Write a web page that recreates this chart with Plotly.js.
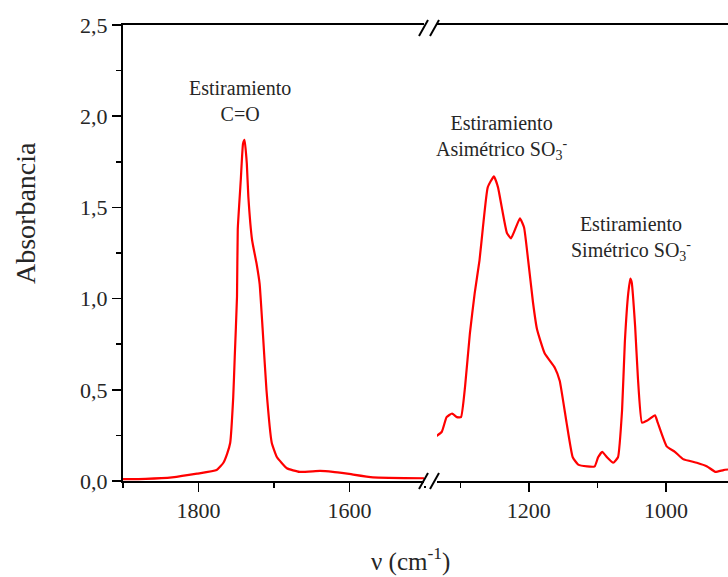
<!DOCTYPE html>
<html>
<head>
<meta charset="utf-8">
<script src="https://cdn.plot.ly/plotly-3.0.1.min.js"></script>
<style>html,body{margin:0;padding:0;background:#fff;}#chart{width:728px;height:577px;}</style>
</head>
<body>
<div id="chart"></div>
<script>
// Left segment (1900–1500 cm-1)
const waveLeft = [1900, 1870, 1835, 1802, 1776, 1767, 1762, 1758, 1754, 1752, 1749, 1748, 1744, 1741, 1739, 1736, 1734, 1729, 1723, 1719, 1715, 1710, 1703, 1696, 1683, 1666, 1639, 1622, 1603, 1569, 1500];
const absLeft  = [0.01, 0.012, 0.02, 0.04, 0.06, 0.10, 0.15, 0.21, 0.46, 0.68, 1.01, 1.38, 1.65, 1.85, 1.87, 1.74, 1.56, 1.32, 1.19, 1.08, 0.83, 0.50, 0.21, 0.13, 0.07, 0.05, 0.055, 0.05, 0.04, 0.02, 0.015];
// Right segment (1335–910 cm-1)
const waveRight = [1337, 1327, 1320, 1312, 1305, 1299, 1293, 1286, 1279, 1272, 1267, 1260, 1251, 1245, 1239, 1232, 1226, 1220, 1213, 1207, 1201, 1194, 1188, 1177, 1162, 1155, 1145, 1136, 1128, 1115, 1104, 1099, 1093, 1086, 1077, 1070, 1064, 1060, 1055, 1052, 1050, 1045, 1041, 1035, 1028, 1016, 1012, 999, 987, 975, 955, 940, 928, 916, 905];
const absRight  = [0.24, 0.27, 0.35, 0.37, 0.35, 0.35, 0.52, 0.81, 1.03, 1.21, 1.39, 1.61, 1.67, 1.61, 1.49, 1.36, 1.33, 1.38, 1.44, 1.39, 1.21, 0.98, 0.83, 0.70, 0.62, 0.55, 0.32, 0.13, 0.09, 0.08, 0.08, 0.13, 0.16, 0.13, 0.10, 0.13, 0.39, 0.76, 1.03, 1.11, 1.09, 0.85, 0.57, 0.32, 0.33, 0.36, 0.32, 0.19, 0.16, 0.12, 0.10, 0.08, 0.05, 0.06, 0.065];
const yTickVals = [0, 0.5, 1.0, 1.5, 2.0, 2.5];
const xTicksLeft = [1800, 1600];
const xTicksRight = [1200, 1000];
const labels = [
  {x: 1745, y: 1.94, axis: 'x', text: 'Estiramiento<br>C=O'},
  {x: 1240, y: 1.73, axis: 'x2', text: 'Estiramiento<br>Asimétrico SO<sub>3</sub><sup>-</sup>'},
  {x: 1051, y: 1.18, axis: 'x2', text: 'Estiramiento<br>Simétrico SO<sub>3</sub><sup>-</sup>'}
];

const W = 728, H = 577, L = 123, R = 0, T = 25, B = 96;
const pw = W - L - R, ph = H - T - B;
const px = v => (v - L) / pw;
const py = v => (H - B - v) / ph;

const FONT = '"Liberation Serif", "Times New Roman", Times, serif';
const RED = '#ff0000';
const TXT = '#262626';

const traces = [
  {x: waveLeft, y: absLeft, xaxis: 'x', yaxis: 'y', mode: 'lines', line: {color: RED, width: 2.2, shape: 'spline', smoothing: 0.4}, hoverinfo: 'skip'},
  {x: waveRight, y: absRight, xaxis: 'x2', yaxis: 'y', mode: 'lines', line: {color: RED, width: 2.2, shape: 'spline', smoothing: 0.4}, hoverinfo: 'skip'}
];

const axCommon = {
  showline: true, linecolor: '#000', linewidth: 2, mirror: true,
  ticks: 'outside', ticklen: 9, tickwidth: 1.5, tickcolor: '#000',
  showgrid: false, zeroline: false,
  tickfont: {family: FONT, size: 22, color: TXT},
  minor: {ticks: 'outside', ticklen: 5, tickwidth: 1.5, tickcolor: '#000', dtick: 100, showgrid: false}
};

const slash = (x0, y0, x1, y1) => ({type: 'line', xref: 'paper', yref: 'paper', x0: px(x0), y0: py(y0), x1: px(x1), y1: py(y1), line: {color: '#000', width: 2}});

const layout = {
  width: W, height: H,
  margin: {l: L, r: R, t: T, b: B},
  paper_bgcolor: '#fff', plot_bgcolor: '#fff',
  showlegend: false,
  separators: ',.',
  font: {family: FONT, color: TXT},
  xaxis: Object.assign({}, axCommon, {
    domain: [0, px(425)], range: [1900, 1500], autorange: false,
    tickvals: xTicksLeft, anchor: 'y'
  }),
  xaxis2: Object.assign({}, axCommon, {
    domain: [px(437), 1], range: [1334, 909.5], autorange: false,
    tickvals: xTicksRight, anchor: 'y'
  }),
  yaxis: {
    range: [0, 2.5], autorange: false,
    showline: true, linecolor: '#000', linewidth: 2,
    ticks: 'outside', ticklen: 9, tickwidth: 1.5, tickcolor: '#000',
    tickvals: yTickVals, tickformat: '.1f',
    minor: {ticks: 'outside', ticklen: 5, tickwidth: 1.5, tickcolor: '#000', dtick: 0.25, showgrid: false},
    showgrid: false, zeroline: false,
    tickfont: {family: FONT, size: 22, color: TXT}
  },
  annotations: labels.map(a => ({
    x: a.x, y: a.y, xref: a.axis, yref: 'y', text: a.text, showarrow: false,
    font: {family: FONT, size: 20, color: TXT}, align: 'center', yanchor: 'bottom'
  })).concat([
    {
      xref: 'paper', yref: 'paper', x: px(410), y: py(559), text: 'ν (cm<sup>-1</sup>)', showarrow: false,
      font: {family: FONT, size: 25, color: TXT}, xanchor: 'center', yanchor: 'middle'
    },
    {
      xref: 'paper', yref: 'paper', x: px(26), y: py(213), text: 'Absorbancia', showarrow: false, textangle: -90,
      font: {family: FONT, size: 28, color: TXT}, xanchor: 'center', yanchor: 'middle'
    }
  ]),
  shapes: [
    {type: 'rect', xref: 'paper', yref: 'paper', x0: px(424), x1: px(436), y0: py(486), y1: py(474), fillcolor: '#fff', line: {width: 0}},
    {type: 'rect', xref: 'paper', yref: 'paper', x0: px(424), x1: px(436), y0: py(32), y1: py(20), fillcolor: '#fff', line: {width: 0}},
    slash(419, 489, 428, 473), slash(430, 489, 439, 473),
    slash(419, 36, 428, 20), slash(430, 36, 439, 20)
  ]
};

Plotly.newPlot('chart', traces, layout, {staticPlot: true, displayModeBar: false});
</script>
</body>
</html>
